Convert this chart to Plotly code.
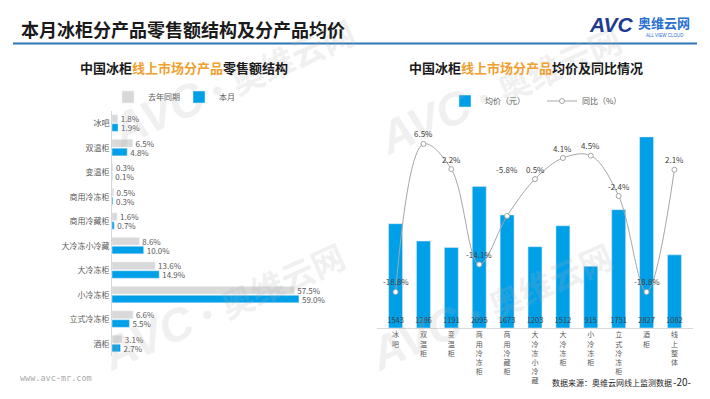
import plotly.graph_objects as go

# ---------------- data ----------------
left_categories = ['冰吧', '双温柜', '变温柜', '商用冷冻柜', '商用冷藏柜',
                   '大冷冻小冷藏', '大冷冻柜', '小冷冻柜', '立式冷冻柜', '酒柜']
share_last_year = [1.8, 6.5, 0.3, 0.5, 1.6, 8.6, 13.6, 57.5, 6.6, 3.1]
share_this_month = [1.9, 4.8, 0.1, 0.3, 0.7, 10.0, 14.9, 59.0, 5.5, 2.7]

right_categories = ['冰吧', '双温柜', '变温柜', '商用冷冻柜', '商用冷藏柜', '大冷冻小冷藏',
                    '大冷冻柜', '小冷冻柜', '立式冷冻柜', '酒柜', '线上整体']
avg_price = [1543, 1286, 1191, 2095, 1673, 1203, 1512, 915, 1751, 2827, 1082]
yoy_change = [-18.8, 6.5, 2.2, -14.1, -5.8, 0.5, 4.1, 4.5, -2.4, -18.8, 2.1]

# ---------------- style ----------------
W, H = 710, 399
FONT = 'Noto Sans CJK SC, Liberation Sans, sans-serif'
BLUE = '#00a0e9'
GREY = '#d9d9d9'
TXT = '#595959'
ORANGE = '#f0a030'
yoy_label_shift = [10, 10, 10, 10, 46, 10, 10, 10, 10, 10, 10]


def px_x(p):
    return p / W


def px_y(p):
    return 1 - p / H


fig = go.Figure()

# left: grouped horizontal bars
fig.add_trace(go.Bar(
    y=left_categories, x=share_last_year, orientation='h', name='去年同期',
    marker_color=GREY, width=0.31, offset=-0.34,
    text=[f'{v:.1f}%' for v in share_last_year], textposition='outside',
    textfont=dict(size=8, color=TXT), constraintext='none', cliponaxis=False,
    xaxis='x', yaxis='y', legend='legend'))
fig.add_trace(go.Bar(
    y=left_categories, x=share_this_month, orientation='h', name='本月',
    marker_color=BLUE, width=0.31, offset=0.02,
    text=[f'{v:.1f}%' for v in share_this_month], textposition='outside',
    textfont=dict(size=8, color=TXT), constraintext='none', cliponaxis=False,
    xaxis='x', yaxis='y', legend='legend'))

# right: price bars + yoy line
fig.add_trace(go.Bar(
    x=right_categories, y=avg_price, name='均价（元）', marker_color=BLUE, width=0.5,
    text=[str(v) for v in avg_price], textposition='inside', insidetextanchor='start',
    textangle=0, constraintext='none', textfont=dict(size=7.5, color='#404040'),
    xaxis='x2', yaxis='y2', legend='legend2'))
fig.add_trace(go.Scatter(
    x=right_categories, y=yoy_change, name='同比（%）', mode='lines+markers',
    line=dict(color='#a6a6a6', width=1, shape='spline', smoothing=1.0),
    marker=dict(symbol='circle', size=5, color='white', line=dict(color='#a6a6a6', width=1)),
    cliponaxis=False, xaxis='x2', yaxis='y3', legend='legend2'))

annotations = []

# faint watermarks (drawn first, beneath other annotations)
for cx, cy in [(223, 304), (233, 80), (491, 304), (500, 88)]:
    annotations.append(dict(
        x=px_x(cx), y=px_y(cy), xref='paper', yref='paper', xanchor='center', yanchor='middle',
        showarrow=False, textangle=-24,
        text=("<span style='font-family:Liberation Sans;font-size:46px'><b><i>AVC</i></b></span>"
              "<b>·奥维云网</b>"),
        font=dict(size=33, color='rgba(175,175,175,0.2)')))

for cat, v, sh in zip(right_categories, yoy_change, yoy_label_shift):
    annotations.append(dict(x=cat, y=v, xref='x2', yref='y3', text=f'{v:.1f}%',
                            showarrow=False, yshift=sh, font=dict(size=8, color='#404040')))

# titles and texts
annotations += [
    dict(x=px_x(19), y=px_y(29), xref='paper', yref='paper', xanchor='left', yanchor='middle',
         text='<b>本月冰柜分产品零售额结构及分产品均价</b>', showarrow=False,
         font=dict(size=18, color='#1a1a1a')),
    dict(x=px_x(184), y=px_y(67), xref='paper', yref='paper', xanchor='center', yanchor='middle',
         text=f"<b>中国冰柜<span style='color:{ORANGE}'>线上市场分产品</span>零售额结构</b>",
         showarrow=False, font=dict(size=13, color='#1a1a1a')),
    dict(x=px_x(526), y=px_y(67), xref='paper', yref='paper', xanchor='center', yanchor='middle',
         text=f"<b>中国冰柜<span style='color:{ORANGE}'>线上市场分产品</span>均价及同比情况</b>",
         showarrow=False, font=dict(size=13, color='#1a1a1a')),
    dict(x=px_x(550), y=px_y(382), xref='paper', yref='paper', xanchor='left', yanchor='middle',
         text='数据来源：奥维云网线上监测数据', showarrow=False, font=dict(size=8, color='#262626')),
    dict(x=px_x(682), y=px_y(381), xref='paper', yref='paper', xanchor='center', yanchor='middle',
         text='-20-', showarrow=False, font=dict(size=10, color='#262626')),
    dict(x=px_x(18), y=px_y(378), xref='paper', yref='paper', xanchor='left', yanchor='middle',
         text='www.avc-mr.com', showarrow=False,
         font=dict(size=8.5, color='#aaaaaa', family='DejaVu Sans Mono')),
    # logo
    dict(x=px_x(611), y=px_y(25), xref='paper', yref='paper', xanchor='center', yanchor='middle',
         text='<b><i>AVC</i></b>', showarrow=False,
         font=dict(size=21, color='#1d3c8f', family='Liberation Sans')),
    dict(x=px_x(664), y=px_y(22), xref='paper', yref='paper', xanchor='center', yanchor='middle',
         text='<b>奥维云网</b>', showarrow=False, font=dict(size=13, color='#2a6fd0')),
    dict(x=px_x(665), y=px_y(35), xref='paper', yref='paper', xanchor='center', yanchor='middle',
         text='ALL VIEW CLOUD', showarrow=False,
         font=dict(size=4.5, color='#2a6fd0', family='Liberation Sans')),
]

fig.update_layout(
    width=W, height=H, margin=dict(l=0, r=0, t=0, b=0),
    paper_bgcolor='white', plot_bgcolor='rgba(0,0,0,0)',
    font=dict(family=FONT, color=TXT),
    barmode='overlay', showlegend=True,
    annotations=annotations,
    shapes=[dict(type='line', xref='paper', yref='paper', x0=px_x(13), x1=px_x(697),
                 y0=px_y(43.5), y1=px_y(43.5), line=dict(color='#2e75b6', width=2))],
    xaxis=dict(domain=[px_x(112), px_x(330)], range=[0, 68.8], visible=False, anchor='y'),
    yaxis=dict(domain=[px_y(356), px_y(111)], autorange='reversed', type='category',
               showline=True, linecolor='#d9d9d9', linewidth=1, ticks='', showgrid=False,
               tickfont=dict(size=8, color=TXT), anchor='x', zeroline=False),
    xaxis2=dict(domain=[px_x(376.6), px_x(693.4)], type='category', anchor='y2',
                showline=True, linecolor='#d9d9d9', linewidth=1, ticks='', showgrid=False,
                tickmode='array', tickvals=right_categories,
                ticktext=['<br>'.join(list(c)) for c in right_categories],
                tickfont=dict(size=7, color=TXT)),
    yaxis2=dict(domain=[px_y(328), px_y(110)], range=[0, 3225], visible=False,
                anchor='x2', showgrid=False, zeroline=False),
    yaxis3=dict(overlaying='y2', range=[-24.96, 12.31], visible=False, anchor='x2',
                showgrid=False, zeroline=False),
    legend=dict(orientation='h', x=px_x(108), y=px_y(97), xanchor='left', yanchor='middle',
                font=dict(size=8, color=TXT), itemwidth=30, bgcolor='rgba(0,0,0,0)',
                entrywidth=26, entrywidthmode='pixels'),
    legend2=dict(orientation='h', x=px_x(445), y=px_y(101), xanchor='left', yanchor='middle',
                 font=dict(size=8, color=TXT), itemwidth=30, bgcolor='rgba(0,0,0,0)',
                 entrywidth=52, entrywidthmode='pixels'),
)

fig.write_html('out.html', config={'displayModeBar': False},
               post_script="document.body.style.margin='0';document.body.style.padding='0';")
